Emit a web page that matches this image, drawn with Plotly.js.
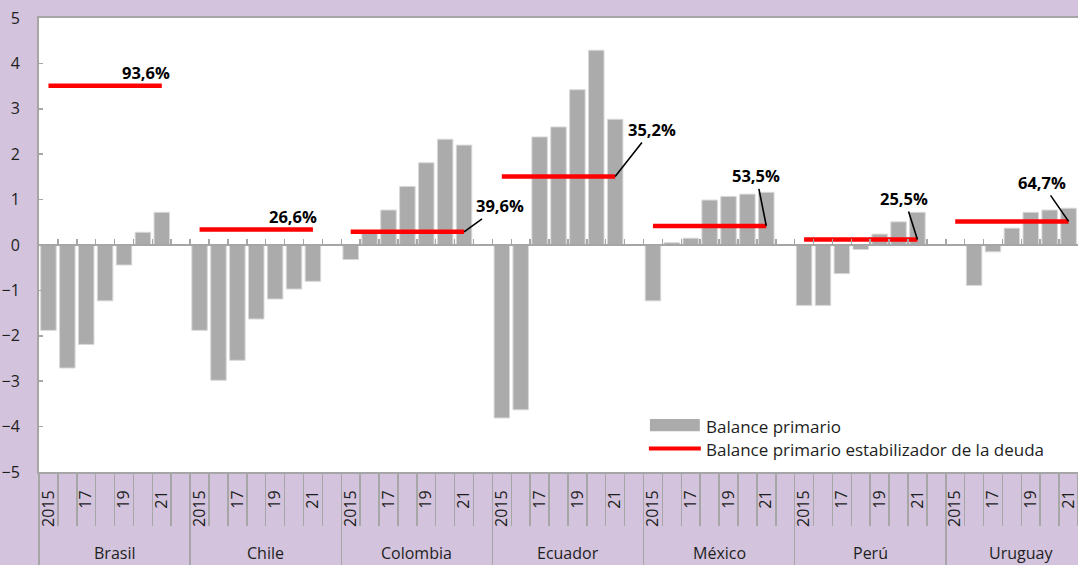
<!DOCTYPE html>
<html>
<head>
<meta charset="utf-8">
<script src="https://cdn.plot.ly/plotly-3.0.1.min.js"></script>
<style>
  html, body { margin: 0; padding: 0; background: #D3C3DC; }
  #chart { width: 1078px; height: 565px; }
</style>
</head>
<body>
<div id="chart"></div>
<script>
// ---- Data ----
const countries = ['Brasil', 'Chile', 'Colombia', 'Ecuador', 'México', 'Perú', 'Uruguay'];
const yearTickLabels = ['2015', '', '17', '', '19', '', '21'];

const brasil   = [-1.88, -2.71, -2.19, -1.23, -0.44, 0.28, 0.72];
const chile    = [-1.88, -2.98, -2.54, -1.63, -1.19, -0.97, -0.80];
const colombia = [-0.32, 0.26, 0.77, 1.29, 1.81, 2.33, 2.20];
const ecuador  = [-3.81, -3.63, 2.38, 2.60, 3.42, 4.29, 2.77];
const mexico   = [-1.23, 0.05, 0.15, 0.99, 1.07, 1.12, 1.16];
const peru     = [-1.33, -1.33, -0.63, -0.10, 0.24, 0.51, 0.72];
const uruguay  = [null, -0.89, -0.15, 0.37, 0.72, 0.77, 0.81];

const stabilizingBalance = [3.51, 0.34, 0.29, 1.51, 0.42, 0.12, 0.52];
const debtLabels = ['93,6%', '26,6%', '39,6%', '35,2%', '53,5%', '25,5%', '64,7%'];

// ---- Layout settings (not data) ----
const seriesByCountry = [brasil, chile, colombia, ecuador, mexico, peru, uruguay];
const SLOTS = 8;                 // 7 years + 1 empty slot per country
const XR = [-0.5, 54.5];
const PURPLE = '#D3C3DC';
const GRAY_AX = '#A6A6A6';
const TXT = '#1E1E1E';
const FONT = 'Open Sans, Noto Sans, sans-serif';
// label placement: pixel offsets of text from the end of the red line; arrow or not
const labelPlacement = [
  {arrow: false, dx: -16, dy: -13},
  {arrow: false, dx: -20, dy: -13},
  {arrow: true, dx: 36, dy: -26},
  {arrow: true, dx: 37, dy: -47},
  {arrow: true, dx: -10, dy: -50},
  {arrow: true, dx: -13, dy: -41},
  {arrow: true, dx: -27, dy: -39}
];

// ---- Build traces ----
const barX = [], barY = [];
seriesByCountry.forEach((vals, c) => {
  vals.forEach((v, j) => { barX.push(c * SLOTS + j); barY.push(v); });
});

const lineX = [], lineY = [];
stabilizingBalance.forEach((v, c) => {
  const n = seriesByCountry[c].length;
  lineX.push(c * SLOTS, c * SLOTS + n - 1, null);
  lineY.push(v, v, null);
});

const tickvals = [], ticktext = [];
countries.forEach((_, c) => {
  yearTickLabels.forEach((t, j) => { if (t) { tickvals.push(c * SLOTS + j); ticktext.push(t); } });
});

const slotBounds = [], countryBounds = [];
for (let c = 0; c < countries.length; c++) {
  countryBounds.push(c * SLOTS - 0.5);
  for (let j = 0; j < SLOTS; j++) slotBounds.push(c * SLOTS + j - 0.5);
}

const traces = [
  {
    type: 'bar', name: 'Balance primario',
    x: barX, y: barY, xaxis: 'x', yaxis: 'y',
    width: 0.82,
    marker: {color: '#ABABAB', line: {color: '#D8D8D8', width: 1}},
    hoverinfo: 'x+y', showlegend: false
  },
  {
    type: 'scatter', mode: 'lines', name: 'Balance primario estabilizador de la deuda',
    x: lineX, y: lineY, xaxis: 'x2', yaxis: 'y',
    line: {color: '#FF0000', width: 4.5}, connectgaps: false,
    showlegend: false
  },
  { type: 'scatter', mode: 'lines', x: [], y: [], xaxis: 'x3', yaxis: 'y', showlegend: false, hoverinfo: 'skip' }
];

// ---- Annotations ----
const annotations = [];
countries.forEach((name, c) => {
  annotations.push({
    xref: 'x', yref: 'paper', x: c * SLOTS + 3.5, y: -0.178,
    text: name, showarrow: false, xanchor: 'center', yanchor: 'middle',
    font: {family: FONT, size: 16, color: TXT}
  });
});
debtLabels.forEach((lab, c) => {
  const p = labelPlacement[c];
  const n = seriesByCountry[c].length;
  const a = {
    xref: 'x2', yref: 'y', x: c * SLOTS + n - 1, y: stabilizingBalance[c],
    text: '<b>' + lab + '</b>',
    font: {family: FONT, size: 16.5, color: '#000000'}
  };
  if (p.arrow) {
    Object.assign(a, {showarrow: true, arrowhead: 0, arrowwidth: 1.6, arrowcolor: '#000000',
      ax: p.dx, ay: p.dy, standoff: 0});
  } else {
    Object.assign(a, {showarrow: false, xanchor: 'center', yanchor: 'middle', xshift: p.dx, yshift: -p.dy});
  }
  annotations.push(a);
});

// custom legend (paper coordinates of the plot area)
annotations.push(
  {xref: 'paper', yref: 'paper', x: 0.640, y: 0.101, xanchor: 'left', yanchor: 'middle', showarrow: false,
   text: traces[0].name, font: {family: FONT, size: 17, color: TXT}},
  {xref: 'paper', yref: 'paper', x: 0.640, y: 0.049, xanchor: 'left', yanchor: 'middle', showarrow: false,
   text: traces[1].name, font: {family: FONT, size: 17, color: TXT}}
);
const shapes = [
  {type: 'rect', xref: 'paper', yref: 'paper', x0: 0.588, x1: 0.636, y0: 0.090, y1: 0.117,
   fillcolor: '#ABABAB', line: {width: 0}},
  {type: 'line', xref: 'paper', yref: 'paper', x0: 0.587, x1: 0.637, y0: 0.052, y1: 0.052,
   line: {color: '#FF0000', width: 4}}
];

const layout = {
  width: 1078, height: 565,
  margin: {l: 39, r: 0, t: 18, b: 93, pad: 0},
  paper_bgcolor: PURPLE, plot_bgcolor: '#FFFFFF',
  font: {family: FONT, color: TXT},
  showlegend: false,
  barmode: 'overlay',
  xaxis: {
    range: XR, fixedrange: true, showgrid: false, zeroline: false,
    showline: true, mirror: true, linecolor: GRAY_AX, linewidth: 2,
    tickmode: 'array', tickvals: tickvals, ticktext: ticktext, tickangle: -90,
    ticks: '', ticklabelstandoff: 10, ticklabeloverflow: 'allow',
    tickfont: {family: FONT, size: 16, color: TXT}
  },
  xaxis2: {
    overlaying: 'x', anchor: 'free', position: 0.5, side: 'bottom',
    range: XR, fixedrange: true, showgrid: false, zeroline: false,
    showline: true, linecolor: GRAY_AX, linewidth: 2,
    tickmode: 'array', tickvals: slotBounds, ticks: 'inside', ticklen: 5, tickwidth: 1.5, tickcolor: GRAY_AX,
    showticklabels: false
  },
  xaxis3: {
    overlaying: 'x', anchor: 'y', side: 'bottom',
    range: XR, fixedrange: true, showgrid: false, zeroline: false, showline: false,
    tickmode: 'array', tickvals: countryBounds, ticks: 'outside', ticklen: 93, tickwidth: 1.5, tickcolor: GRAY_AX,
    minor: {tickmode: 'array', tickvals: slotBounds, ticks: 'outside', ticklen: 53, tickwidth: 1.5, tickcolor: GRAY_AX},
    showticklabels: false
  },
  yaxis: {
    range: [-5, 5], fixedrange: true, showgrid: false, zeroline: false,
    tickmode: 'array', tickvals: [-5, -4, -3, -2, -1, 0, 1, 2, 3, 4, 5],
    ticks: 'inside', ticklen: 4, tickwidth: 1.5, tickcolor: GRAY_AX,
    showline: true, linecolor: GRAY_AX, linewidth: 2,
    ticklabelstandoff: 14,
    tickfont: {family: FONT, size: 16, color: TXT}
  },
  annotations: annotations,
  shapes: shapes
};

Plotly.newPlot('chart', traces, layout, {displayModeBar: false, staticPlot: true});
</script>
</body>
</html>
